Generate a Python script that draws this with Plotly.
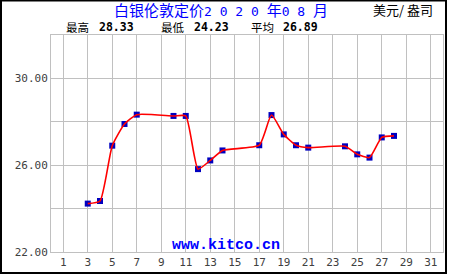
import plotly.graph_objects as go

days = [3, 4, 5, 6, 7, 10, 11, 12, 13, 14, 17, 18, 19, 20, 21, 24, 25, 26, 27, 28]
prices = [24.23, 24.35, 26.90, 27.90, 28.33, 28.27, 28.27, 25.82, 26.22, 26.68,
          26.92, 28.31, 27.42, 26.92, 26.81, 26.87, 26.50, 26.35, 27.28, 27.35]
x_ticks = list(range(1, 32, 2))
y_ticks = [22, 24, 26, 28, 30]
y_labels = ["22.00", "", "26.00", "", "30.00"]
title_cjk = "白银伦敦定价"
title_year = "2 0 2 0 "
title_month = "0 8 "
unit = "美元/ 盎司"
stats = [("最高", "28.33"), ("最低", "24.23"), ("平均", "26.89")]
watermark = "www.kitco.cn"

W, H = 450, 275
L, R, T, B = 51, 7, 35, 23
PW, PH = W - L - R, H - T - B


def px(x):
    return (x - L) / PW


def py(y):
    return (H - B - y) / PH


def nb(s):
    return s.replace(" ", "\u00a0")


fig = go.Figure()
fig.add_trace(go.Scatter(x=days, y=prices, mode="markers",
                         marker=dict(symbol="square", size=6, color="#0000c0",
                                     line=dict(width=0)),
                         hoverinfo="skip", showlegend=False))
fig.add_trace(go.Scatter(x=days, y=prices, mode="lines",
                         line=dict(color="#ff0000", width=1.6, shape="spline", smoothing=0.5),
                         showlegend=False))

grid = "#c0c0c0"
tickfont = dict(family="DejaVu Sans Mono", size=11, color="#404040")
fig.update_xaxes(range=[0, 32], tickvals=x_ticks, ticktext=[str(v) for v in x_ticks],
                 showgrid=True, gridcolor=grid, gridwidth=1, zeroline=False,
                 showline=True, linecolor=grid, linewidth=1, mirror=True,
                 ticks="", tickfont=tickfont, fixedrange=True)
fig.update_yaxes(range=[22, 32], tickvals=y_ticks, ticktext=y_labels,
                 showgrid=True, gridcolor=grid, gridwidth=1, zeroline=False,
                 showline=True, linecolor=grid, linewidth=1, mirror=True,
                 ticks="", tickfont=tickfont, fixedrange=True)

mono = "font-family:'DejaVu Sans Mono';font-size:13px"
title_html = (title_cjk + "<span style=\"" + mono + "\">" + nb(title_year) + "</span>"
              + "年" + "<span style=\"" + mono + "\">" + nb(title_month) + "</span>" + "月")

ann = []
ann.append(dict(text=title_html, x=px(113), y=py(9), xanchor="left", yanchor="middle",
                font=dict(family="Noto Sans CJK SC", size=15, color="#0000ff")))
ann.append(dict(text=nb(unit), x=px(434), y=py(9), xanchor="right", yanchor="middle",
                font=dict(family="Noto Sans CJK SC", size=13, color="#000000")))
label_x = [65, 160, 250]
num_x = [99, 194, 283]
for (lab, num), lx, nx in zip(stats, label_x, num_x):
    ann.append(dict(text=lab, x=px(lx), y=py(26.5), xanchor="left", yanchor="middle",
                    font=dict(family="Noto Sans CJK SC", size=11.5, color="#000000")))
    ann.append(dict(text="<b>" + num + "</b>", x=px(nx - 1), y=py(26.5), xanchor="left",
                    yanchor="middle",
                    font=dict(family="DejaVu Sans Mono", size=11.5, color="#000000")))
ann.append(dict(text="<b>" + watermark + "</b>", x=px(226), y=py(245), xanchor="center",
                yanchor="middle",
                font=dict(family="Liberation Mono", size=15, color="#0000ff")))
for a in ann:
    a.update(xref="paper", yref="paper", showarrow=False, borderpad=0)

shapes = [dict(type="rect", xref="paper", yref="paper",
               x0=px(1), x1=px(446), y0=py(273), y1=py(0.5),
               line=dict(color="#000000", width=2), layer="above")]

fig.update_layout(width=W, height=H, margin=dict(l=L, r=R, t=T, b=B, pad=0),
                  paper_bgcolor="#ffffff", plot_bgcolor="#ffffff",
                  annotations=ann, shapes=shapes, showlegend=False)

fig.write_html("out.html", config={"displayModeBar": False})
